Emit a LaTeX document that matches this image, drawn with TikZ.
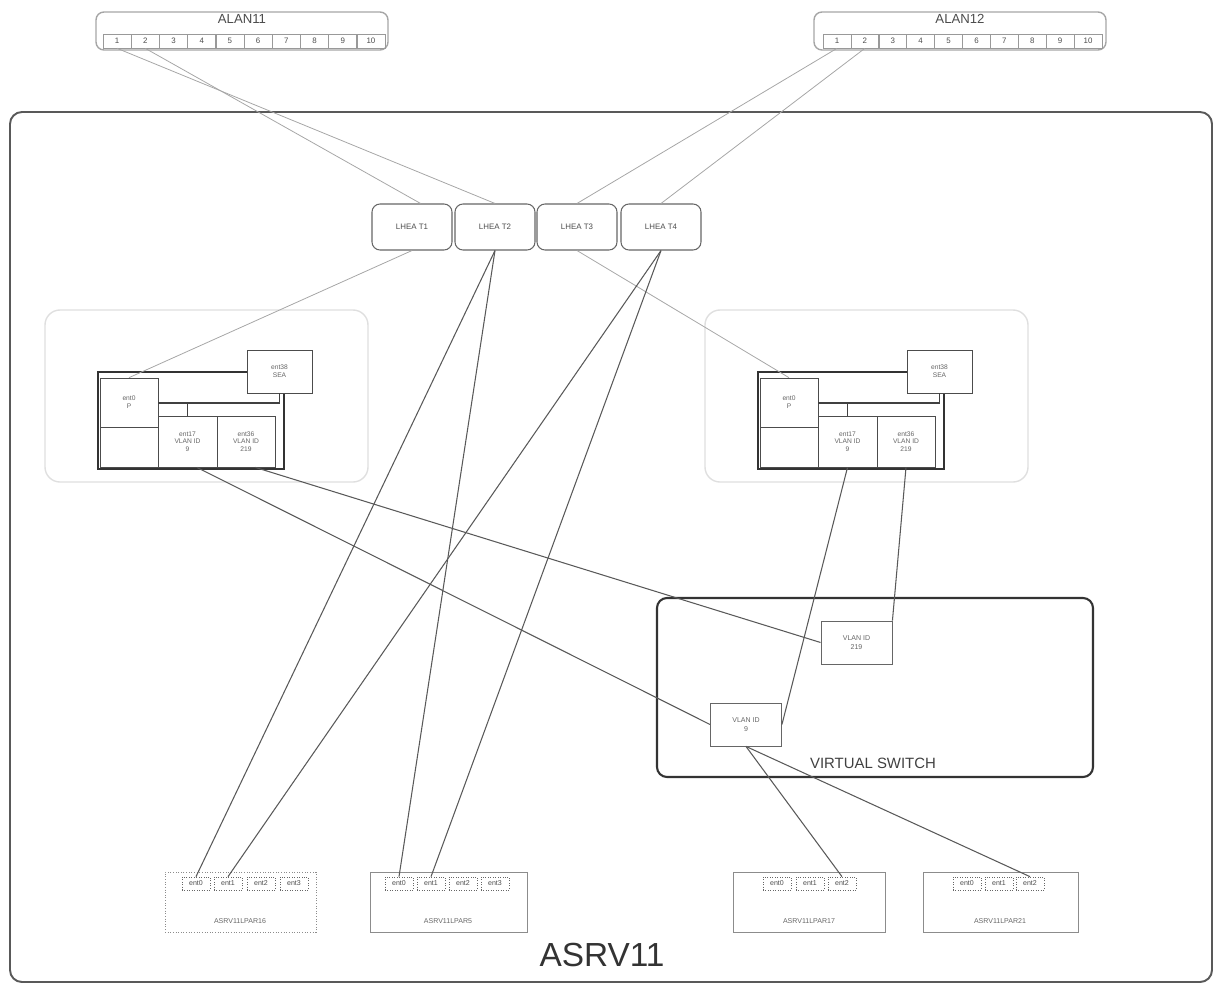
\documentclass[tikz,border=0pt]{standalone}
\usepackage{fontspec}
\setmainfont{Liberation Sans}
\usepackage{tikz}
\usetikzlibrary{positioning}
\tikzset{
    hostframe/.style={draw=black!65, rounded corners=2.4mm, line width=1.1pt, minimum width=240.4mm, minimum height=174mm},
    alanbox/.style={draw=gray!70, rounded corners=1.6mm, line width=0.8pt, minimum width=58.4mm, minimum height=7.6mm},
    alanport/.style={draw=gray!80, minimum width=5.6mm, minimum height=2.8mm, inner sep=0pt, font=\fontsize{4.5}{5}\selectfont, text=black!70},
    lheabox/.style={draw=black!60, rounded corners=1.6mm, line width=0.6pt, minimum width=16mm, minimum height=9.2mm, fill=white, font=\fontsize{4.5}{5}\selectfont, text=black!70},
    viosgroup/.style={draw=gray!25, rounded corners=3mm, line width=0.8pt, minimum width=64.6mm, minimum height=34.4mm},
    viosframe/.style={draw=black!80, line width=1.2pt, minimum width=37.2mm, minimum height=19.4mm},
    viosport/.style={draw=black!70, line width=0.5pt, fill=white, align=center, inner sep=0pt, font=\fontsize{3.8}{4.4}\selectfont, text=black!60},
    viosline/.style={draw=black!75, line width=0.8pt},
    vswitch/.style={draw=black!80, rounded corners=2mm, line width=1.2pt, minimum width=87.2mm, minimum height=35.8mm},
    vlanbox/.style={draw=black!60, line width=0.5pt, fill=white, align=center, minimum width=14.2mm, minimum height=8.6mm, inner sep=0pt, font=\fontsize{4}{4.8}\selectfont, text=black!60},
    lparbox/.style={draw=black!45, line width=0.5pt, minimum height=12mm},
    lparport/.style={draw=black!60, densely dotted, minimum width=5.6mm, minimum height=2.6mm, inner sep=0pt, font=\fontsize{4}{4.5}\selectfont, text=black!70},
    boxname/.style={font=\fontsize{4}{4.5}\selectfont, text=black!60},
    groupname/.style={font=\fontsize{6.5}{7}\selectfont, text=black!70},
    netline/.style={draw=black!65, line width=0.6pt},
    lightline/.style={draw=black!35, line width=0.45pt}
}
\begin{document}
\begin{tikzpicture}[x=0.2mm, y=-0.2mm]
    \useasboundingbox (0,0) rectangle (1215,984);

    % server frame
    \node[hostframe] (asrv11) at (611,547) {};
    \node[font=\fontsize{19}{20}\selectfont, text=black!80] (asrv11name) at (602,955) {ASRV11};

    % switches
    \node[alanbox, label={[anchor=north, inner sep=1.5pt, font=\fontsize{7.5}{8}\selectfont, text=black!70]north:ALAN11}] (alan11) at (242,31) {};
    \node[alanbox, label={[anchor=north, inner sep=1.5pt, font=\fontsize{7.5}{8}\selectfont, text=black!70]north:ALAN12}] (alan12) at (960,31) {};
    \foreach \i in {1,...,10}{
        \node[alanport] (a11p\i) at ({103+28.2*(\i-0.5)},41) {\i};
        \node[alanport] (a12p\i) at ({823+27.9*(\i-0.5)},41) {\i};
    }

    % LHEA ports
    \node[lheabox] (lhea1) at (412,227) {LHEA T1};
    \node[lheabox] (lhea2) at (495,227) {LHEA T2};
    \node[lheabox] (lhea3) at (577,227) {LHEA T3};
    \node[lheabox] (lhea4) at (661,227) {LHEA T4};

    % VIO servers
    \foreach \v/\dx in {1/0,2/660}{
        \node[viosgroup] (vios\v) at ({206.5+\dx},396) {};
        \node[groupname] (vios\v-name) at ({210+\dx},466) {ASRV11VIOS\v};
        \node[viosframe] (vios\v-frame) at ({191+\dx},420.5) {};
        \node[viosport, minimum width=13mm, minimum height=8.6mm] (vios\v-sea) at ({279.5+\dx},371.5) {ent38\\SEA};
        \node[viosport, minimum width=11.6mm, minimum height=9.8mm, line width=0.4pt] (vios\v-e0) at ({129+\dx},402.5) {ent0\\P};
        \node[viosport, minimum width=11.6mm, minimum height=8mm, line width=0.4pt] (vios\v-spare) at ({129+\dx},447) {};
        \node[viosport, minimum width=11.8mm, minimum height=10.2mm] (vios\v-e17) at ({187.5+\dx},441.5) {ent17\\VLAN ID\\9};
        \node[viosport, minimum width=11.6mm, minimum height=10.2mm] (vios\v-e36) at ({246+\dx},441.5) {ent36\\VLAN ID\\219};
        \coordinate (vios\v-bus) at ({158+\dx},403);
        \draw[viosline] (vios\v-sea.south) |- (vios\v-bus);
        \draw[viosline] (vios\v-e17.north) |- (vios\v-bus);
    }

    % virtual switch
    \node[vswitch] (vsw) at (875,687.5) {};
    \node[font=\fontsize{8.5}{9}\selectfont, text=black!75] (vswname) at (873,763) {VIRTUAL SWITCH};
    \node[vlanbox] (vlan219) at (856.5,642.5) {VLAN ID\\219};
    \node[vlanbox] (vlan9) at (746,724.5) {VLAN ID\\9};

    % LPARs
    \node[lparbox, densely dotted, minimum width=30.2mm] (lpar16) at (240.5,902) {};
    \node[lparbox, minimum width=31.4mm] (lpar5) at (448.5,902) {};
    \node[lparbox, minimum width=30.4mm] (lpar17) at (809,902) {};
    \node[lparbox, minimum width=31mm] (lpar21) at (1000.5,902) {};
    \node[boxname] (lpar16-name) at (240,921) {ASRV11LPAR16};
    \node[boxname] (lpar5-name) at (448,921) {ASRV11LPAR5};
    \node[boxname] (lpar17-name) at (809,921) {ASRV11LPAR17};
    \node[boxname] (lpar21-name) at (1000,921) {ASRV11LPAR21};
    \foreach \p/\x in {0/196,1/228,2/261,3/294}
        \node[lparport] (lpar16-e\p) at (\x,883.5) {ent\p};
    \foreach \p/\x in {0/399,1/431,2/463,3/495}
        \node[lparport] (lpar5-e\p) at (\x,883.5) {ent\p};
    \foreach \p/\x in {0/777,1/810,2/842}
        \node[lparport] (lpar17-e\p) at (\x,883.5) {ent\p};
    \foreach \p/\x in {0/967,1/999,2/1030}
        \node[lparport] (lpar21-e\p) at (\x,883.5) {ent\p};

    % cabling
    \draw[lightline] (a11p1.south) -- (lhea2.north);
    \draw[lightline] (a11p2.south) -- (lhea1.70);
    \draw[lightline] (a12p1.south) -- (lhea3.north);
    \draw[lightline] (a12p2.south) -- (lhea4.north);
    \draw[lightline] (lhea1.south) -- (vios1-e0.north);
    \draw[lightline] (lhea3.south) -- (vios2-e0.north);
    \draw[netline] (lhea2.south) -- (lpar16-e0.north);
    \draw[netline] (lhea2.south) -- (lpar5-e0.north);
    \draw[netline] (lhea4.south) -- (lpar16-e1.north);
    \draw[netline] (lhea4.south) -- (lpar5-e1.north);
    \draw[netline] (vios1-e17.-70) -- (vlan9.west);
    \draw[netline] (vios1-e36.-70) -- (vlan219.west);
    \draw[netline] (vios2-e17.south) -- (vlan9.east);
    \draw[netline] (vios2-e36.south) -- (vlan219.north east);
    \draw[netline] (vlan9.south) -- (lpar17-e2.north);
    \draw[netline] (vlan9.south) -- (lpar21-e2.north);
\end{tikzpicture}
\end{document}
